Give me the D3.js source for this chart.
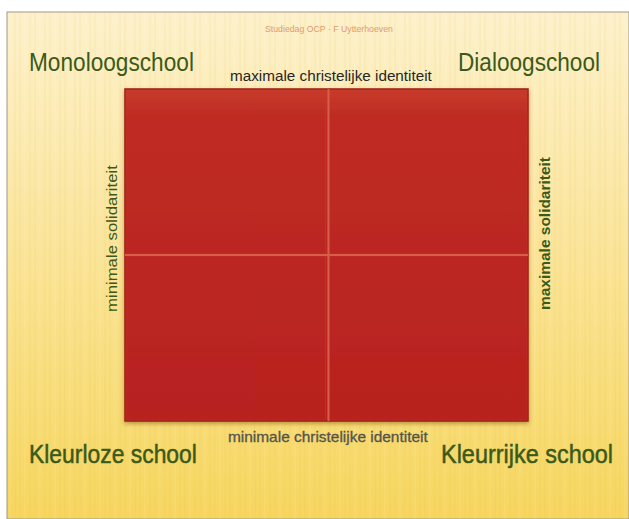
<!DOCTYPE html>
<html>
<head>
<meta charset="utf-8">
<script src="https://cdn.jsdelivr.net/npm/d3@7"></script>
<style>
  body { margin: 0; background: #ffffff; }
  svg { display: block; }
</style>
</head>
<body>
<script>
(function(){
    //quadrants: identity (+1 max / -1 min) and solidarity (+1 max / -1 min)
    var quadrantNames = ["Monoloogschool", "Dialoogschool", "Kleurloze school", "Kleurrijke school"];
    var quadrantIdentity = [1, 1, -1, -1];
    var quadrantSolidarity = [-1, 1, -1, 1];

    //axis labels
    var identityLabels = ["minimale christelijke identiteit", "maximale christelijke identiteit"];
    var solidarityLabels = ["minimale solidariteit", "maximale solidariteit"];
    var headerText = "Studiedag OCP  \u00b7  F Uytterhoeven";

    var width = 629, height = 519;
    var font = "'Liberation Sans', Arial, sans-serif";

    var svg = d3.select("body").append("svg")
        .attr("width", width)
        .attr("height", height);

    var defs = svg.append("defs");

    //slide background gradient
    var bg = defs.append("linearGradient").attr("id", "bgGrad")
        .attr("x1", 0).attr("y1", 0).attr("x2", 0).attr("y2", 1);
    bg.append("stop").attr("offset", "0%").attr("stop-color", "#fdf1cb");
    bg.append("stop").attr("offset", "40%").attr("stop-color", "#fbe6a0");
    bg.append("stop").attr("offset", "100%").attr("stop-color", "#f6d65e");

    //red square gradient
    var rg = defs.append("linearGradient").attr("id", "redGrad")
        .attr("x1", 0).attr("y1", 0).attr("x2", 0).attr("y2", 1);
    rg.append("stop").attr("offset", "0%").attr("stop-color", "#c73b2c");
    rg.append("stop").attr("offset", "8%").attr("stop-color", "#bf2c23");
    rg.append("stop").attr("offset", "100%").attr("stop-color", "#b8221f");

    defs.append("filter").attr("id", "shadow")
        .attr("x", "-5%").attr("y", "-5%").attr("width", "110%").attr("height", "115%")
        .append("feDropShadow")
        .attr("dx", 0).attr("dy", 2).attr("stdDeviation", 2)
        .attr("flood-color", "#6b3a10").attr("flood-opacity", 0.45);

    //slide
    svg.append("rect")
        .attr("x", 7).attr("y", 12)
        .attr("width", width - 7).attr("height", height - 12)
        .attr("fill", "url(#bgGrad)")
        .attr("stroke", "#a09888").attr("stroke-width", 1);

    //faint vertical streaks
    var streaks = d3.range(10, width, 5);
    svg.append("g").selectAll("line")
        .data(streaks)
        .enter().append("line")
        .attr("x1", d => d).attr("x2", d => d)
        .attr("y1", 13).attr("y2", height)
        .attr("stroke", (d, i) => i % 3 === 0 ? "#ffffff" : "#e6bf55")
        .attr("stroke-opacity", 0.07)
        .attr("stroke-width", 2);

    //scales
    var x = d3.scaleLinear().domain([-1, 1]).range([125, 528]);
    var y = d3.scaleLinear().domain([-1, 1]).range([421, 89]);

    //red square
    svg.append("rect")
        .attr("x", x(-1)).attr("y", y(1))
        .attr("width", x(1) - x(-1)).attr("height", y(-1) - y(1))
        .attr("fill", "url(#redGrad)")
        .attr("stroke", "#9e1c16").attr("stroke-width", 1.5)
        .attr("filter", "url(#shadow)");

    //quadrant cells
    var cells = quadrantNames.map(function(n, i){
        return {name: n, id: quadrantIdentity[i], sol: quadrantSolidarity[i]};
    });
    svg.append("g").selectAll("rect")
        .data(cells)
        .enter().append("rect")
        .attr("x", d => Math.min(x(0), x(d.sol)) + 1)
        .attr("y", d => Math.min(y(0), y(d.id)) + 1)
        .attr("width", d => Math.abs(x(d.sol) - x(0)) - 2)
        .attr("height", d => Math.abs(y(d.id) - y(0)) - 2)
        .attr("fill", "none")
        .attr("stroke", "#c63a2c").attr("stroke-opacity", 0.5);

    //crosshair
    svg.append("line")
        .attr("x1", x(0) + 2).attr("x2", x(0) + 2)
        .attr("y1", y(1)).attr("y2", y(-1))
        .attr("stroke", "#d95e4a").attr("stroke-width", 2);
    svg.append("line")
        .attr("x1", x(-1)).attr("x2", x(1))
        .attr("y1", y(0)).attr("y2", y(0))
        .attr("stroke", "#d95e4a").attr("stroke-width", 2);

    //narrow text: draw at natural size, then squeeze horizontally to fit the wanted width
    function narrowText(txt, x0, y0, w, size, color, rotate, weight){
        var g = svg.append("g");
        var t = g.append("text")
            .style("font-family", font)
            .style("font-size", size + "px")
            .style("font-weight", weight || "normal")
            .attr("fill", color)
            .text(txt);
        var sx = w / t.node().getComputedTextLength();
        g.attr("transform", "translate(" + x0 + "," + y0 + ")" +
            (rotate ? " rotate(-90)" : "") + " scale(" + sx + ",1)");
        return t;
    }

    //header
    narrowText(headerText, 265, 32, 128, 9, "#e49a6a");

    //quadrant labels
    var labelWidths = [165, 142, 168, 172];
    cells.forEach(function(d, i){
        var x0 = d.sol < 0 ? 29 : (i === 1 ? 600 : 613) - labelWidths[i];
        var t = narrowText(d.name, x0, d.id > 0 ? 71 : 463, labelWidths[i], 26, "#3b5a1a");
        if (d.id < 0) t.attr("stroke", "#3b5a1a").attr("stroke-width", 0.5);
    });

    //identity labels
    narrowText(identityLabels[1], 230, y(1) - 8, 202, 15, "#262626");
    narrowText(identityLabels[0], 228, y(-1) + 21, 200, 14, "#55544c")
        .attr("stroke", "#55544c").attr("stroke-width", 0.3);

    //solidarity labels
    narrowText(solidarityLabels[0], x(-1) - 8, 312, 147, 14, "#3b5a1a", true);
    narrowText(solidarityLabels[1], x(1) + 22, 310, 153, 14, "#3b5a1a", true, "bold");
})();
</script>
</body>
</html>
